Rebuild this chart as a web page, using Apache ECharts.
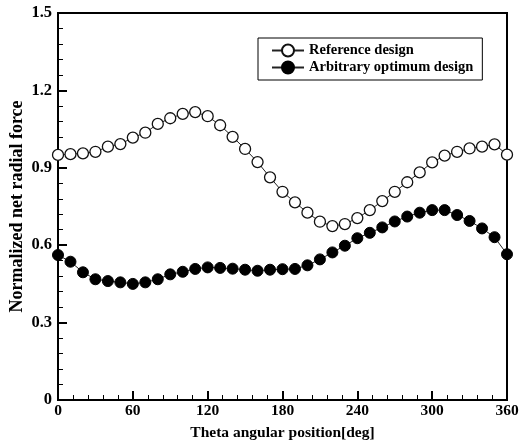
<!DOCTYPE html>
<html>
<head>
<meta charset="utf-8">
<script src="https://cdn.jsdelivr.net/npm/echarts@6/dist/echarts.min.js"></script>
<style>
  html, body { margin: 0; padding: 0; background: #fff; }
  #chart { width: 520px; height: 443px; }
</style>
</head>
<body>
<div id="chart"></div>
<script>
// Angular positions (deg), every 10 degrees around the rotor
const theta = [0,10,20,30,40,50,60,70,80,90,100,110,120,130,140,150,160,170,180,
               190,200,210,220,230,240,250,260,270,280,290,300,310,320,330,340,350,360];

// Normalized net radial force
const referenceDesign = [0.950,0.953,0.956,0.962,0.982,0.992,1.017,1.036,1.070,1.092,1.109,1.116,
                         1.100,1.065,1.020,0.973,0.922,0.863,0.807,0.766,0.726,0.691,0.674,0.682,
                         0.705,0.736,0.771,0.807,0.844,0.882,0.921,0.947,0.962,0.975,0.982,0.991,0.951];
const optimumDesign = [0.562,0.536,0.495,0.468,0.461,0.456,0.450,0.456,0.468,0.487,0.497,0.508,
                       0.514,0.512,0.509,0.505,0.501,0.505,0.507,0.508,0.522,0.545,0.572,0.598,
                       0.627,0.648,0.669,0.692,0.711,0.726,0.736,0.736,0.717,0.694,0.665,0.631,0.565];

const xTicks = [0, 60, 120, 180, 240, 300, 360];
const yTicks = [0, 0.3, 0.6, 0.9, 1.2, 1.5];

const pairs = (ys) => theta.map((t, i) => [t, ys[i]]);

const serif = '"Liberation Serif", "DejaVu Serif", serif';
const chart = echarts.init(document.getElementById('chart'), null, { renderer: 'canvas' });

const axisCommon = {
  axisLine: { show: true, lineStyle: { color: '#000', width: 2 } },
  axisTick: { show: true, inside: true, length: 9, lineStyle: { color: '#000', width: 2 } },
  minorTick: { show: true, splitNumber: 5, length: 5, lineStyle: { color: '#000', width: 1 } },
  splitLine: { show: false },
  axisLabel: { color: '#000', fontFamily: serif, fontWeight: 'bold', fontSize: 15.5 }
};

chart.setOption({
  animation: false,
  backgroundColor: '#fff',
  grid: {
    left: 58, right: 13, top: 13, bottom: 43,
    containLabel: false,
    outerBoundsMode: 'none',
    show: true, borderColor: '#000', borderWidth: 2, backgroundColor: 'transparent'
  },
  legend: {
    left: 258, top: 38,
    orient: 'vertical',
    padding: [5, 9, 5, 13],
    itemGap: 2,
    itemWidth: 32,
    itemHeight: 15,
    borderColor: '#000',
    borderWidth: 1,
    backgroundColor: '#fff',
    textStyle: { color: '#000', fontFamily: serif, fontWeight: 'bold', fontSize: 14.5 },
    data: ['Reference design', 'Arbitrary optimum design']
  },
  xAxis: Object.assign({}, axisCommon, {
    type: 'value',
    min: 0, max: 360, interval: 60,
    name: 'Theta angular position[deg]',
    nameLocation: 'middle',
    nameGap: 25,
    nameTextStyle: { color: '#000', fontFamily: serif, fontWeight: 'bold', fontSize: 15.5 },
    axisLabel: Object.assign({}, axisCommon.axisLabel, {
      margin: 3,
      formatter: (v) => xTicks.includes(v) ? String(v) : ''
    })
  }),
  yAxis: Object.assign({}, axisCommon, {
    type: 'value',
    min: 0, max: 1.5, interval: 0.3,
    name: 'Normalized net radial force',
    nameLocation: 'middle',
    nameGap: 32,
    nameMoveOverlap: false,
    nameTextStyle: { color: '#000', fontFamily: serif, fontWeight: 'bold', fontSize: 18 },
    axisLabel: Object.assign({}, axisCommon.axisLabel, {
      margin: 6,
      fontSize: 16.5,
      formatter: (v) => {
        const t = yTicks.find((k) => Math.abs(k - v) < 1e-9);
        return t === undefined ? '' : (t === 0 ? '0' : t.toFixed(1));
      }
    })
  }),
  series: [
    {
      name: 'Reference design',
      type: 'line',
      data: pairs(referenceDesign),
      symbol: 'circle',
      symbolSize: 11,
      showAllSymbol: true,
      lineStyle: { color: '#222', width: 1 },
      itemStyle: { color: '#fff', borderColor: '#111', borderWidth: 1.3 },
      z: 3
    },
    {
      name: 'Arbitrary optimum design',
      type: 'line',
      data: pairs(optimumDesign),
      symbol: 'circle',
      symbolSize: 11,
      showAllSymbol: true,
      lineStyle: { color: '#222', width: 1 },
      itemStyle: { color: '#000', borderColor: '#000', borderWidth: 1 },
      z: 4
    }
  ]
});
</script>
</body>
</html>
